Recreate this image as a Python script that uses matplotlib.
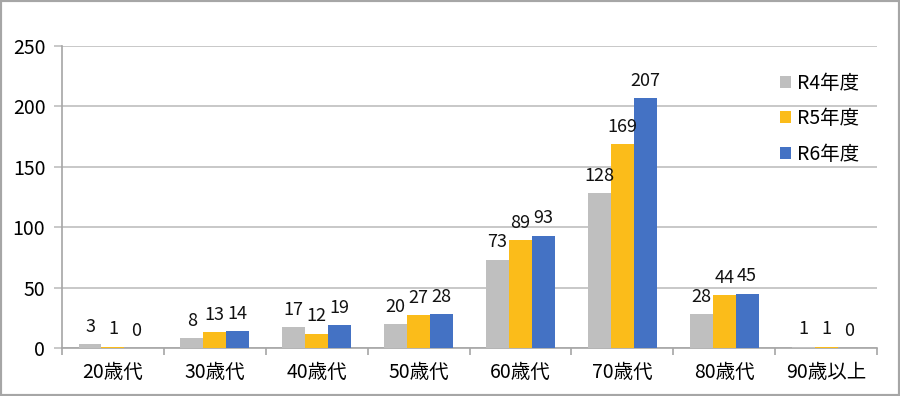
import numpy as np
import matplotlib
matplotlib.use("Agg")
import matplotlib.pyplot as plt
from matplotlib.patches import Rectangle

plt.rcParams['font.family'] = ['Noto Sans CJK JP', 'DejaVu Sans']

categories = ["20歳代", "30歳代", "40歳代", "50歳代", "60歳代", "70歳代", "80歳代", "90歳以上"]
series_names = ["R4年度", "R5年度", "R6年度"]
r4 = [3, 8, 17, 20, 73, 128, 28, 1]
r5 = [1, 13, 12, 27, 89, 169, 44, 1]
r6 = [0, 14, 19, 28, 93, 207, 45, 0]
colors = ["#BFBFBF", "#FBBC1A", "#4472C4"]
yticks = [0, 50, 100, 150, 200, 250]

fig = plt.figure(figsize=(9, 3.96), dpi=100)
ax = fig.add_axes([62/900, 48/396, 815/900, 302/396])

x = np.arange(len(categories))
w = 0.225
for i, (vals, name, c) in enumerate(zip([r4, r5, r6], series_names, colors)):
    bars = ax.bar(x + (i - 1) * w, vals, width=w, color=c, label=name, zorder=3)
    for b, v in zip(bars, vals):
        ax.annotate(str(v), (b.get_x() + b.get_width() / 2, b.get_height()),
                    xytext=(0, 6), textcoords="offset points",
                    ha="center", va="bottom", fontsize=13, color="#111111",
                    zorder=4)

ax.set_xlim(-0.5, len(categories) - 0.5)
ax.set_ylim(0, 250)
ax.set_yticks(yticks)
ax.set_yticklabels([str(t) for t in yticks], fontsize=14)
ax.yaxis.grid(True, color="#BFBFBF", linewidth=1.2, zorder=0)
ax.set_axisbelow(True)

ax.set_xticks(x)
ax.set_xticklabels(categories, fontsize=14)
ax.tick_params(axis="x", length=0, pad=10)
ax.set_xticks(np.arange(-0.5, len(categories), 1), minor=True)
ax.tick_params(axis="x", which="minor", length=5, color="#A6A6A6", width=1.2)
ax.tick_params(axis="y", length=6, color="#BFBFBF", width=1.2, pad=6)

for s in ["top", "right"]:
    ax.spines[s].set_visible(False)
for s in ["left", "bottom"]:
    ax.spines[s].set_color("#A6A6A6")
    ax.spines[s].set_linewidth(1.2)

ax.legend(loc="upper left", bbox_to_anchor=(0.86, 0.97), frameon=False,
          fontsize=14, handlelength=0.55, handleheight=0.55, handletextpad=0.3,
          labelspacing=0.75)

fig.patches.append(Rectangle((0, 0), 1, 1, transform=fig.transFigure,
                             fill=False, edgecolor="#A6A6A6", linewidth=3))

fig.savefig("out.png", dpi=100)
